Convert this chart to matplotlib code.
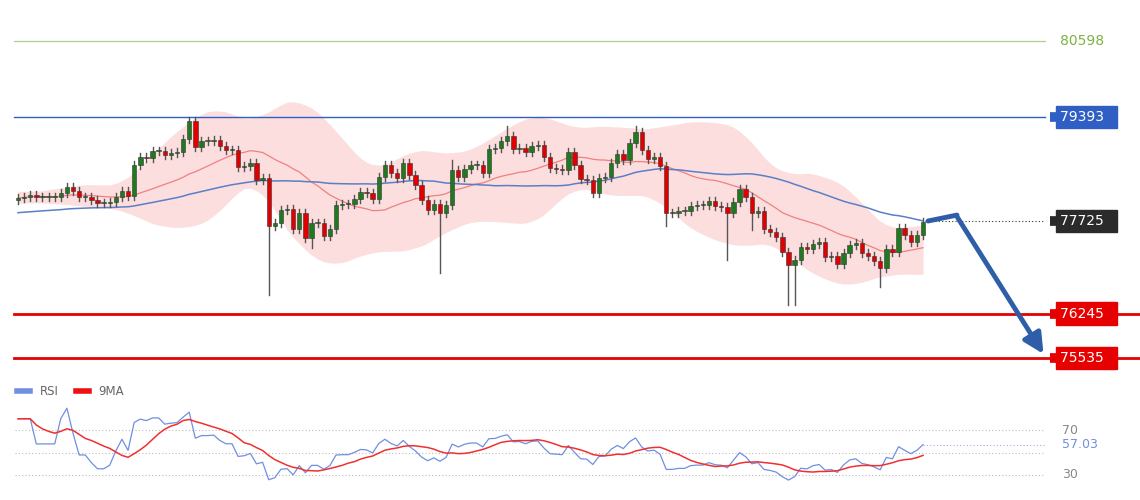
import matplotlib
matplotlib.use('Agg')
import matplotlib.pyplot as plt
import numpy as np
import pandas as pd

# closing prices, one per candle
closes = [78093, 78109, 78141, 78109, 78109, 78109, 78109, 78173, 78269, 78205,
          78109, 78109, 78061, 78013, 78013, 78029, 78109, 78205, 78125, 78621,
          78749, 78733, 78845, 78845, 78781, 78813, 78829, 79037, 79325, 78909,
          79005, 79005, 79021, 78925, 78861, 78861, 78589, 78605, 78653, 78381,
          78413, 77645, 77693, 77901, 77917, 77597, 77853, 77453, 77693, 77693,
          77485, 77597, 77981, 77997, 77997, 78077, 78189, 78173, 78077, 78429,
          78621, 78493, 78413, 78653, 78461, 78301, 78061, 77901, 77997, 77853,
          77981, 78541, 78429, 78557, 78621, 78621, 78493, 78877, 78893, 79005,
          79085, 78877, 78893, 78829, 78925, 78941, 78749, 78573, 78557, 78541,
          78829, 78621, 78397, 78381, 78173, 78413, 78429, 78653, 78797, 78701,
          78973, 79149, 78861, 78717, 78749, 78605, 77853, 77853, 77885, 77885,
          77965, 77981, 77981, 78045, 77965, 77949, 77853, 78029, 78237, 78109,
          77853, 77885, 77597, 77549, 77469, 77229, 77021, 77101, 77309, 77277,
          77357, 77389, 77149, 77165, 77037, 77213, 77341, 77373, 77213, 77165,
          77085, 76973, 77277, 77229, 77613, 77501, 77389, 77501, 77709]
# candles with long shadows: index -> low / high
long_lows = {41: 76541, 48: 77290, 69: 76893, 106: 77650, 126: 76381, 127: 76381,
             141: 76670, 116: 77100, 120: 77580}
long_highs = {28: 79395, 80: 79250, 101: 79250, 71: 78700}

levels = [80598, 79393, 77725, 76245, 75535]
rsi_marks = [70, 50, 30]
last_rsi = 57.03

n = len(closes)
x = np.arange(n)
c = pd.Series(closes, dtype=float)
opens = c.shift(1).fillna(c.iloc[0] - 30).values

W, H = 1140, 500
px = 6.115  # pixels per candle
x0 = 18
xl = (-x0 / px, (W - x0) / px)
def xp(pix):
    return (pix - x0) / px

fig = plt.figure(figsize=(11.4, 5.0), dpi=100)
ax = fig.add_axes([0, 0.25, 1, 0.75])
ax.set_xlim(*xl)
ax.set_ylim(81261 - 16 * 375, 81261)
ax.axis('off')

# bollinger band + moving averages
ma20 = c.rolling(20, min_periods=1).mean()
sd = c.rolling(20, min_periods=2).std().bfill()
upper = (ma20 + 2 * sd).rolling(7, min_periods=1, center=True).mean() + 60
lower = (ma20 - 2 * sd).rolling(7, min_periods=1, center=True).mean() - 60
ax.fill_between(x, upper, lower, color='#fbd3d3', alpha=0.75, lw=0)
ax.plot(x, ma20, color='#f08080', lw=0.9)
ma50 = pd.concat([pd.Series([77850.0] * 30), c]).rolling(50, min_periods=1).mean().iloc[30:]
ax.plot(x, ma50.values, color='#5b7fc7', lw=1.1)

for i in range(n):
    o, cl = opens[i], closes[i]
    top, bot = max(o, cl), min(o, cl)
    hi = long_highs.get(i, top + 70)
    lo = long_lows.get(i, bot - 70)
    ax.plot([i, i], [lo, hi], color='#555555', lw=1, zorder=3)
    col = '#1f7a1f' if cl >= o else '#e00000'
    ax.bar(i, max(top - bot, 20), bottom=bot, width=0.72, color=col,
           edgecolor='#333333', lw=0.4, zorder=4)

# horizontal levels
ax.plot([xp(14), xp(1045)], [levels[0]] * 2, color='#a8d58a', lw=0.9)
ax.plot([xp(14), xp(1045)], [levels[1]] * 2, color='#2f5fc4', lw=1.0)
ax.plot([xp(925), xp(1045)], [levels[2]] * 2, color='#333333', lw=0.8, ls=(0, (1, 2)))
ax.plot([xp(14), xp(1140)], [levels[3]] * 2, color='#e60000', lw=2)
ax.plot([xp(14), xp(1140)], [levels[4]] * 2, color='#e60000', lw=2)

# right-hand labels
ax.text(xp(1060), levels[0], str(levels[0]), color='#7cb342', fontsize=10,
        va='center', ha='left')
styles = [(levels[1], '#2f5fc4'), (levels[2], '#2b2b2b'), (levels[3], '#e60000'), (levels[4], '#e60000')]
for v, col in styles:
    ax.text(xp(1060), v, str(v) + '  ', color='white', fontsize=10, va='center', ha='left',
            bbox=dict(boxstyle='square,pad=0.3', fc=col, ec=col), zorder=6)
    ax.plot([xp(1050), xp(1058)], [v, v], color=col, lw=7, solid_capstyle='butt')

# forecast arrow
ax.plot([xp(928), xp(957)], [77725, 77820], color='#2f5ea8', lw=3.5, solid_capstyle='round')
ax.annotate('', xy=(xp(1045), 75560), xytext=(xp(956), 77820),
            arrowprops=dict(arrowstyle='-|>,head_width=0.6,head_length=1.2',
                            color='#2f5ea8', lw=3.5))

# RSI panel
delta = c.diff().fillna(0)
up = delta.clip(lower=0).ewm(alpha=1 / 14, adjust=False).mean()
dn = (-delta.clip(upper=0)).ewm(alpha=1 / 14, adjust=False).mean()
rsi = 100 - 100 / (1 + up / dn.replace(0, np.nan))
rsi = rsi.fillna(80)
rsi = rsi - rsi.iloc[-1] + last_rsi
rsi_ma = rsi.rolling(9, min_periods=1).mean()

ar = fig.add_axes([0, 0, 1, 0.25])
ar.set_xlim(*xl)
ar.set_ylim(30 - 25 / 1.125, 70 + 55 / 1.125)
ar.axis('off')
for m in rsi_marks:
    ar.plot([xp(15), xp(1045)], [m, m], color='#bbbbbb', lw=0.8, ls=(0, (1, 2)))
    if m != 50:
        ar.text(xp(1062), m, str(m), color='#888888', fontsize=9, va='center')
ar.plot(x, rsi, color='#6f8fe0', lw=0.9)
ar.plot(x, rsi_ma, color='#f03030', lw=1.1)
ar.plot([n - 1, xp(1045)], [last_rsi] * 2, color='#9ab0e8', lw=0.8, ls=(0, (1, 2)))
ar.text(xp(1062), last_rsi, '%.2f' % last_rsi, color='#6f8fe0', fontsize=9, va='center')
ar.plot([xp(17), xp(30)], [104.5] * 2, color='#6f8fe0', lw=4)
ar.text(xp(40), 104.5, 'RSI', color='#666666', fontsize=8.5, va='center')
ar.plot([xp(76), xp(89)], [104.5] * 2, color='#ee1111', lw=4)
ar.text(xp(98), 104.5, '9MA', color='#666666', fontsize=8.5, va='center')

fig.savefig('out.png', dpi=100)
